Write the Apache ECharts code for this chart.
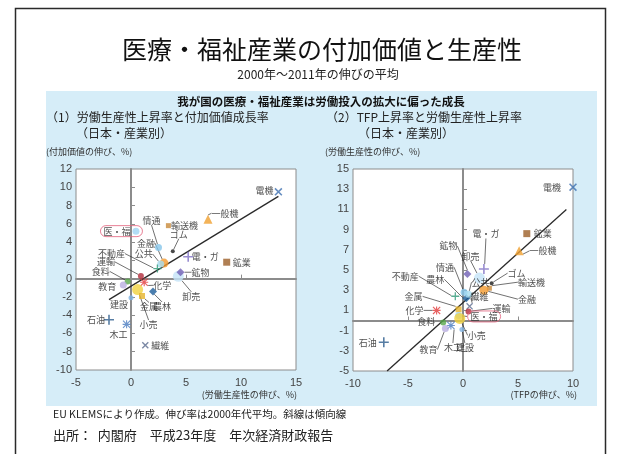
<!DOCTYPE html>
<html>
<head>
<meta charset="utf-8">
<script src="https://cdn.jsdelivr.net/npm/echarts@6/dist/echarts.min.js"></script>
<style>
  html, body { margin: 0; padding: 0; background: #fff; }
  #chart { width: 619px; height: 454px; }
</style>
</head>
<body>
<div id="chart"></div>
<script>
// (1) labour productivity growth (x) vs value-added growth (y), % per year
const industries1 = ['電機', '一般機', '輸送機', 'ゴム', '医・福', '情通', '金融', '公共', '不動産', '運輸', '食料', '教育',
  '化学', '卸売', '鉱物', '電・ガ', '鉱業', '建設', '小売', '金属', '農林', '石油', '木工', '繊維'];
const laborProd1 = [13.4, 7.0, 3.4, 3.8, 0.45, 2.5, 3.0, 2.7, 2.4, 0.9, -0.3, -0.7,
  1.2, 4.3, 4.5, 5.2, 8.7, 0.0, 0.6, 1.0, 2.0, -2.0, -0.4, 1.3];
const valueAdded1 = [9.5, 6.5, 5.8, 3.0, 5.2, 3.4, 1.7, 1.6, 1.1, 0.3, -0.3, -0.7,
  -0.4, 0.25, 0.7, 2.4, 1.8, -2.1, -1.2, -1.9, -1.4, -4.5, -5.0, -7.3];

// (2) TFP growth (x) vs labour productivity growth (y), % per year
const industries2 = ['電機', '鉱業', '一般機', '電・ガ', '鉱物', '卸売', '情通', '不動産', '農林', '公共', 'ゴム', '輸送機',
  '金融', '繊維', '金属', '運輸', '化学', '医・福', '食料', '小売', '木工', '教育', '建設', '石油'];
const tfp2 = [10.0, 5.8, 5.1, 1.9, 0.4, 1.5, 0.1, -0.7, 0.3, 0.5, 2.6, 2.4,
  1.9, 0.6, -0.4, 0.5, -2.4, -0.4, -1.8, -0.3, -1.1, -1.6, -0.1, -7.2];
const laborProd2 = [13.2, 8.6, 6.9, 5.1, 4.6, 4.2, 2.8, 2.4, 2.2, 2.6, 3.7, 3.2,
  3.0, 1.4, 1.1, 0.9, 1.0, 0.5, -0.2, 0.2, -0.5, -0.8, -0.9, -2.15];

// fitted trend lines (end points)
const trend1X = [-2.0, 13.4];
const trend1Y = [-2.3, 9.0];
const trend2X = [-6.9, 9.4];
const trend2Y = [-5.0, 11.0];

// tick labels
const xTicks1 = [-5, 0, 5, 10, 15];
const yTicks1 = [-10, -8, -6, -4, -2, 0, 2, 4, 6, 8, 10, 12];
const xTicks2 = [-10, -5, 0, 5, 10];
const yTicks2 = [-5, -3, -1, 1, 3, 5, 7, 9, 11, 13, 15];
const xZeroTicks1 = [5, 10];
const yZeroTicks1 = [-8, -6, -4, -2, 2, 4, 6, 8, 10];
const xZeroTicks2 = [-5, 5];
const yZeroTicks2 = [-3, -1, 1, 3, 5, 7, 9, 11, 13];

const FONT = '"Noto Sans CJK JP", "Noto Sans", sans-serif';

// filled glyph paths for ×, + and * markers
const SYM = {
  cross: 'path://M1.4,0L10,8.6L8.6,10L0,1.4Z M8.6,0L10,1.4L1.4,10L0,8.6Z',
  plus: 'path://M4.2,0H5.8V4.2H10V5.8H5.8V10H4.2V5.8H0V4.2H4.2Z',
  star: 'path://M4.3,0H5.7V10H4.3Z M0,4.3H10V5.7H0Z M1,0L10,9L9,10L0,1Z M9,0L10,1L1,10L0,9Z'
};

// marker look per industry: [symbol, colour, size]
const markerLook = {
  '電機': ['cross', '#3d6fb0', 8],
  '一般機': ['triangle', '#f0a030', 9],
  '輸送機': ['rect', '#c88a3a', 5],
  'ゴム': ['circle', '#1a1a1a', 4],
  '医・福': ['circle', '#9fd4f2', 7],
  '情通': ['circle', '#86c5ea', 7],
  '金融': ['circle', '#f39a2e', 9],
  '公共': ['circle', '#a6dcf0', 7],
  '不動産': ['plus', '#2f9a78', 8],
  '運輸': ['circle', '#b02a3a', 6],
  '食料': ['circle', '#59a84b', 6],
  '教育': ['circle', '#b9aee0', 7],
  '化学': ['star', '#e23a3a', 8],
  '卸売': ['circle', '#c4e4f7', 11],
  '鉱物': ['diamond', '#6f5fb4', 8],
  '電・ガ': ['plus', '#7f70c4', 10],
  '鉱業': ['rect', '#9c5f28', 7],
  '建設': ['circle', '#7fb3e2', 5],
  '小売': ['circle', '#f1d23f', 11],
  '金属': ['rect', '#e6b42c', 6],
  '農林': ['diamond', '#1d5e9a', 8],
  '石油': ['plus', '#2d5d8d', 10],
  '木工': ['star', '#4a7cc0', 8],
  '繊維': ['cross', '#5b6b8f', 7]
};

// label placement relative to the marker centre: [dx, dy, leader line]
const labelPos1 = {
  '電機': [-14, -1, 0], '一般機': [17, -6, 1], '輸送機': [16, 0, 0], 'ゴム': [6, -17, 1],
  '医・福': [-14.5, 0, 0], '情通': [-7, -27, 1], '金融': [-18, -20, 1], '公共': [-17, -10, 1],
  '不動産': [-46, -15, 1], '運輸': [-35, -14, 1], '食料': [-27, -10, 1], '教育': [-16, 2, 0],
  '化学': [18, 3, 1], '卸売': [13, 20, 1], '鉱物': [20, 0, 1], '電・ガ': [17, 0, 0],
  '鉱業': [15, 0, 0], '建設': [-12, 7, 0], '小売': [11, 35, 1], '金属': [7, 11, 1],
  '農林': [9, 15, 1], '石油': [-13, 0, 0], '木工': [-8, 10, 0], '繊維': [15, 0, 0]
};
const labelPos2 = {
  '電機': [-21, 0, 0], '鉱業': [16, 0, 0], '一般機': [24, 0, 1], '電・ガ': [2, -35, 1],
  '鉱物': [-19, -28, 1], '卸売': [-9, -22, 1], '情通': [-19, -25, 1], '不動産': [-50, -20, 1],
  '農林': [-31, -19, 1], '公共': [12, -12, 1], 'ゴム': [25, -10, 1], '輸送機': [42, -6, 1],
  '金融': [43, 9, 1], '繊維': [10, -10, 1], '金属': [-45, -13, 1], '運輸': [33, -3, 1],
  '化学': [-22, 0, 1], '医・福': [25.5, 1, 1], '食料': [-17, -1, 0], '小売': [17, 17, 1],
  '木工': [2, 22, 1], '教育': [-17, 21, 1], '建設': [3, 18, 1], '石油': [-16, 0, 0]
};

// red ring drawn round the health & welfare label
function ringLabel(padding) {
  return {
    borderColor: '#e2607c', borderWidth: 1, borderRadius: 7, padding: padding
  };
}

function buildPoints(names, xs, ys, pos, ringPadding) {
  return names.map(function (n, i) {
    const look = markerLook[n];
    const item = {
      name: n,
      value: [xs[i], ys[i]],
      symbol: SYM[look[0]] || look[0],
      symbolSize: look[2],
      itemStyle: { color: look[1] },
      labelLine: { show: !!pos[n][2] }
    };
    if (n === '医・福') item.label = ringLabel(ringPadding);
    return item;
  });
}

function scatterSeries(xi, yi, names, xs, ys, pos, ringPadding) {
  return {
    type: 'scatter',
    xAxisIndex: xi,
    yAxisIndex: yi,
    clip: false,
    z: 4,
    data: buildPoints(names, xs, ys, pos, ringPadding),
    label: {
      show: true,
      formatter: '{b}',
      fontSize: 9,
      color: '#222',
      fontFamily: FONT
    },
    labelLine: { show: true, lineStyle: { color: '#333', width: 0.7 } },
    labelLayout: function (p) {
      const o = pos[names[p.dataIndex]];
      return {
        x: p.rect.x + p.rect.width / 2 + o[0],
        y: p.rect.y + p.rect.height / 2 + o[1],
        align: 'center',
        verticalAlign: 'middle'
      };
    }
  };
}

function trendSeries(xi, yi, xs, ys) {
  return {
    type: 'line',
    xAxisIndex: xi,
    yAxisIndex: yi,
    symbol: 'none',
    z: 3,
    silent: true,
    lineStyle: { color: '#2a2a2a', width: 1.3 },
    data: xs.map(function (x, i) { return [x, ys[i]]; })
  };
}

const tickLabel = { fontSize: 11, color: '#444', fontFamily: '"Liberation Sans", Arial, sans-serif' };

function labelAxis(grid, min, max, ticks, pos) {
  return {
    type: 'value', gridIndex: grid, min: min, max: max, position: pos,
    axisLine: { show: false, onZero: false },
    axisTick: { show: false },
    splitLine: { show: false },
    axisLabel: Object.assign({ customValues: ticks, margin: pos === 'bottom' ? 7 : 4 }, tickLabel)
  };
}
function zeroAxis(grid, min, max, ticks, pos) {
  return {
    type: 'value', gridIndex: grid, min: min, max: max, position: pos,
    axisLine: { show: true, onZero: true, lineStyle: { color: '#8c8c8c', width: 2 } },
    axisTick: { show: true, inside: true, length: 4, customValues: ticks, lineStyle: { color: '#8c8c8c', width: 1 } },
    axisLabel: { show: false },
    splitLine: { show: false }
  };
}

function text(str, left, top, size, extra, style) {
  return Object.assign({
    text: str, left: left, top: top, padding: 0,
    textStyle: Object.assign({ fontSize: size, fontWeight: 'normal', color: '#222', fontFamily: FONT }, style || {})
  }, extra || {});
}

const chart = echarts.init(document.getElementById('chart'), null, { renderer: 'canvas' });

chart.setOption({
  animation: false,
  backgroundColor: '#ffffff',
  graphic: [
    { type: 'rect', z: -100, silent: true, shape: { x: 15.5, y: 8.5, width: 590, height: 470 },
      style: { fill: '#ffffff', stroke: '#2a2a2a', lineWidth: 1.5 } },
    { type: 'rect', z: -99, silent: true, shape: { x: 46, y: 91, width: 551, height: 315 },
      style: { fill: '#d6edf8' } }
  ],
  title: [
    text('医療・福祉産業の付加価値と生産性', 322, 37, 25, { textAlign: 'center' }, { color: '#111' }),
    text('2000年～2011年の伸びの平均', 318, 68, 12, { textAlign: 'center' }),
    text('我が国の医療・福祉産業は労働投入の拡大に偏った成長', 321, 96, 11.5, { textAlign: 'center' },
      { color: '#111', fontWeight: 'bold' }),
    text('（1）労働生産性上昇率と付加価値成長率', 46, 111, 12),
    text('（日本・産業別）', 76, 127, 12),
    text('（2）TFP上昇率と労働生産性上昇率', 326, 111, 12),
    text('（日本・産業別）', 358, 127, 12),
    text('(付加価値の伸び、%)', 46, 147, 9, null, { color: '#333' }),
    text('(労働生産性の伸び、%)', 325, 147, 9, null, { color: '#333' }),
    text('(労働生産性の伸び、%)', 297, 390, 9, { textAlign: 'right' }, { color: '#333' }),
    text('(TFPの伸び、%)', 577, 390, 9, { textAlign: 'right' }, { color: '#333' }),
    text('EU KLEMSにより作成。伸び率は2000年代平均。斜線は傾向線', 53, 409, 10.5),
    text('出所：  内閣府　平成23年度　年次経済財政報告', 53, 429, 13)
  ],
  grid: [
    { left: 76, top: 169, width: 220, height: 201, show: true, backgroundColor: '#ffffff', borderColor: '#8c8c8c', borderWidth: 1 },
    { left: 353, top: 169, width: 220, height: 202, show: true, backgroundColor: '#ffffff', borderColor: '#8c8c8c', borderWidth: 1 }
  ],
  xAxis: [
    labelAxis(0, -5, 15, xTicks1, 'bottom'),
    zeroAxis(0, -5, 15, xZeroTicks1, 'bottom'),
    labelAxis(1, -10, 10, xTicks2, 'bottom'),
    zeroAxis(1, -10, 10, xZeroTicks2, 'bottom')
  ],
  yAxis: [
    labelAxis(0, -10, 12, yTicks1, 'left'),
    zeroAxis(0, -10, 12, yZeroTicks1, 'left'),
    labelAxis(1, -5, 15, yTicks2, 'left'),
    zeroAxis(1, -5, 15, yZeroTicks2, 'left')
  ],
  series: [
    trendSeries(0, 0, trend1X, trend1Y),
    scatterSeries(0, 0, industries1, laborProd1, valueAdded1, labelPos1, [1, 12, 1, 3]),
    trendSeries(2, 2, trend2X, trend2Y),
    scatterSeries(2, 2, industries2, tfp2, laborProd2, labelPos2, [1, 3, 1, 3])
  ]
});
</script>
</body>
</html>
